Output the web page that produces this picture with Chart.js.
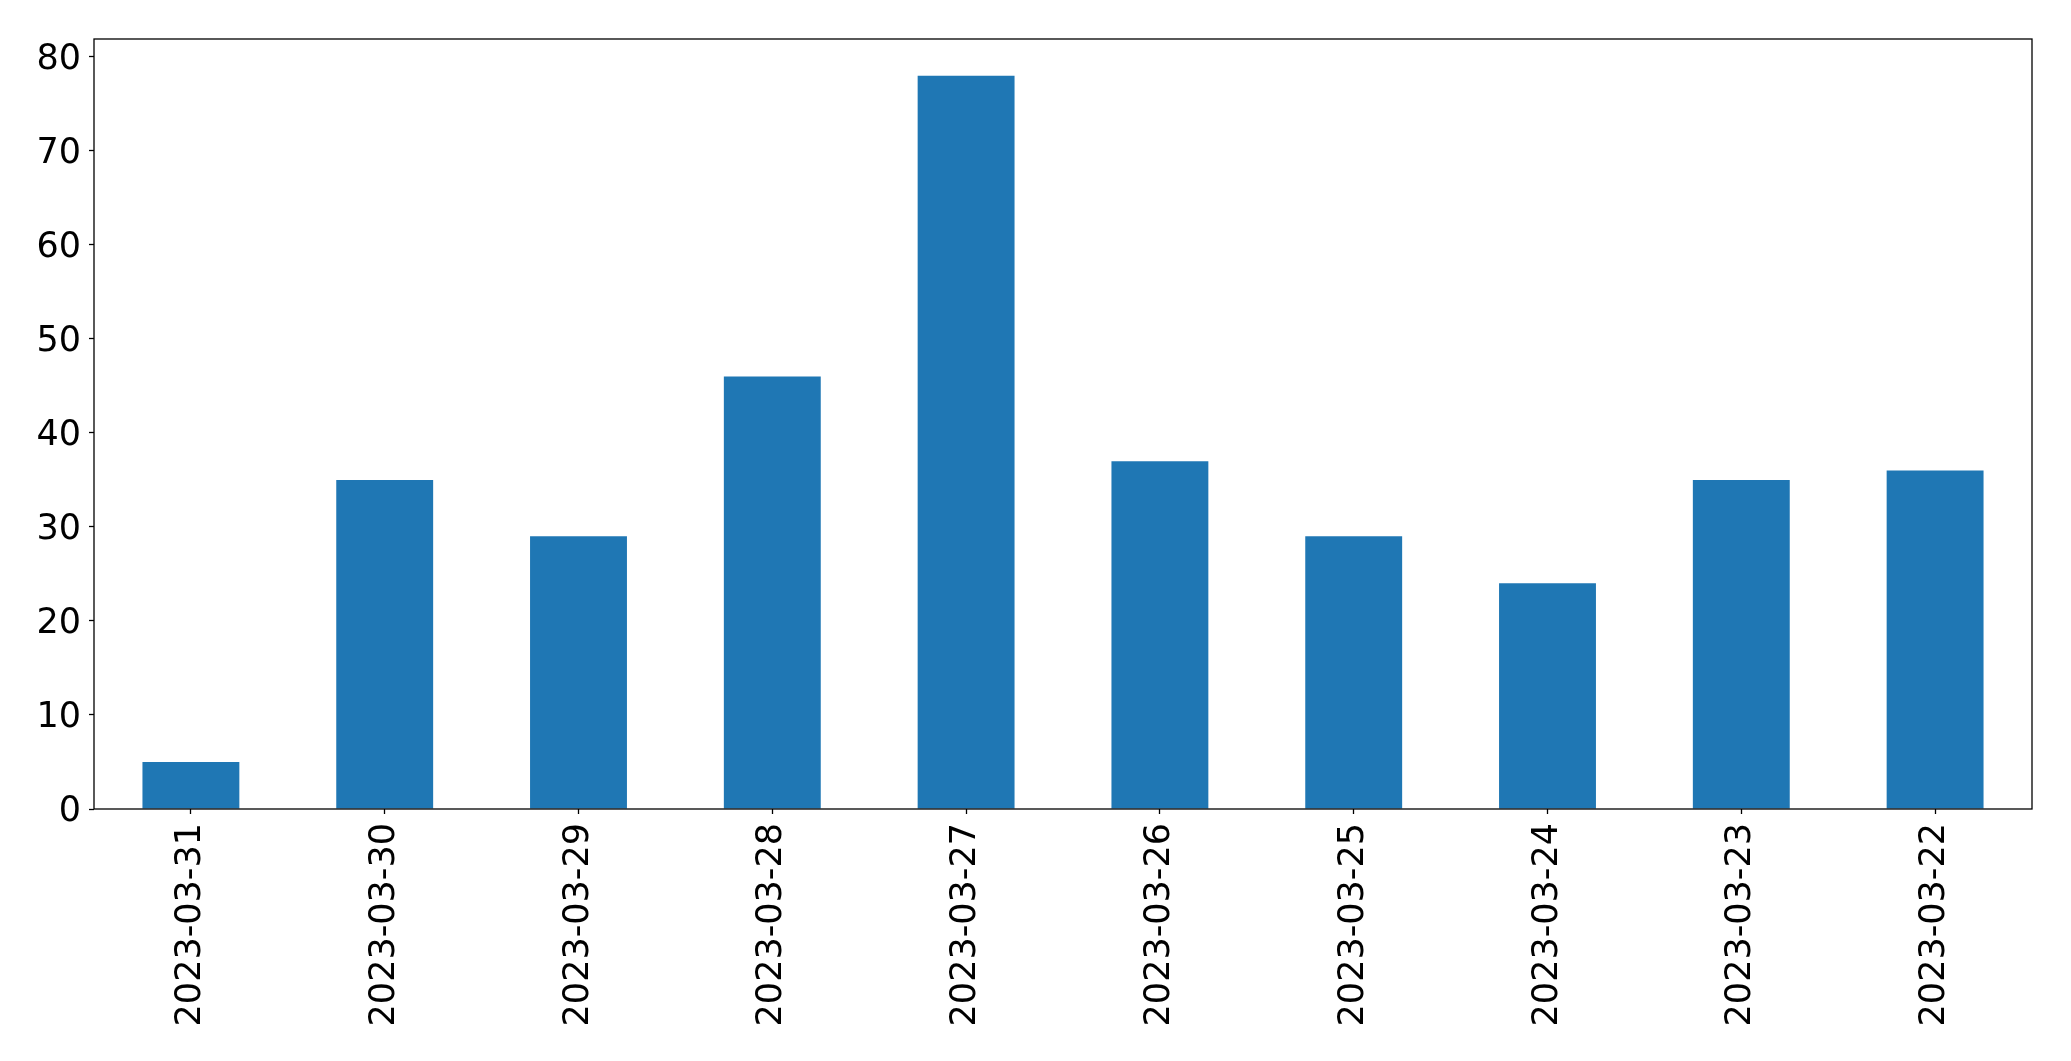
<!DOCTYPE html>
<html>
<head>
<meta charset="utf-8">
<script src="https://cdn.jsdelivr.net/npm/chart.js@4/dist/chart.umd.min.js"></script>
<style>
  html, body { margin: 0; padding: 0; background: #fff; }
  #wrap { width: 2071px; height: 1061px; position: relative; }
</style>
</head>
<body>
<div id="wrap"><canvas id="c" width="2071" height="1061"></canvas></div>
<script>
const categories = ["2023-03-31","2023-03-30","2023-03-29","2023-03-28","2023-03-27","2023-03-26","2023-03-25","2023-03-24","2023-03-23","2023-03-22"];
const values = [5, 35, 29, 46, 78, 37, 29, 24, 35, 36];
const yTicks = [0, 10, 20, 30, 40, 50, 60, 70, 80];

const FONT = { family: "'DejaVu Sans', sans-serif", size: 35 };

const frame = {
  id: 'frame',
  afterDraw(chart) {
    const a = chart.chartArea, ctx = chart.ctx;
    ctx.save();
    ctx.strokeStyle = '#000';
    ctx.lineWidth = 1.3;
    ctx.strokeRect(a.left, a.top, a.right - a.left, a.bottom - a.top);
    ctx.restore();
  }
};

new Chart(document.getElementById('c'), {
  type: 'bar',
  data: {
    labels: categories,
    datasets: [{
      data: values,
      backgroundColor: '#1f77b4',
      borderWidth: 0,
      barPercentage: 0.5,
      categoryPercentage: 1.0
    }]
  },
  options: {
    responsive: false,
    animation: false,
    events: [],
    layout: { padding: { top: 39, right: 39, left: 0, bottom: 0 } },
    plugins: { legend: { display: false }, tooltip: { enabled: false } },
    scales: {
      x: {
        offset: true,
        grid: { display: true, offset: false, drawOnChartArea: false, drawTicks: true, tickLength: 5, tickColor: '#000', tickWidth: 1.3 },
        border: { display: false },
        ticks: { color: '#000', font: FONT, minRotation: 90, maxRotation: 90, padding: 9, autoSkip: false },
        afterFit(s) { s.height = 1061 - 809; }
      },
      y: {
        min: 0,
        max: 81.9,
        grid: { display: true, drawOnChartArea: false, drawTicks: true, tickLength: 5, tickColor: '#000', tickWidth: 1.3 },
        border: { display: false },
        ticks: { color: '#000', font: FONT, padding: 8, stepSize: 10, labelOffset: 3 },
        afterBuildTicks(s) { s.ticks = yTicks.map(v => ({ value: v })); },
        afterFit(s) { s.width = 94; }
      }
    }
  },
  plugins: [frame]
});
</script>
</body>
</html>
